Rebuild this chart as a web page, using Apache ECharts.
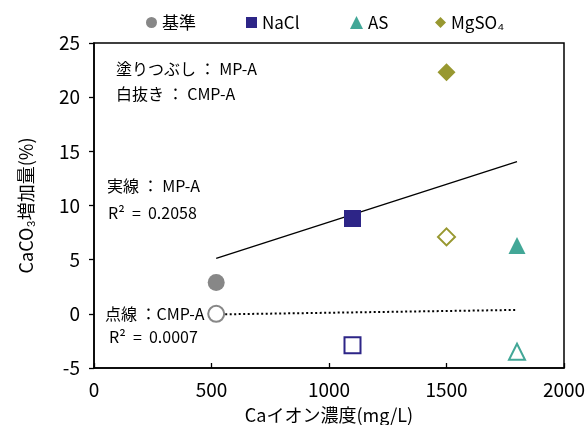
<!DOCTYPE html>
<html>
<head>
<meta charset="utf-8">
<script src="https://cdn.jsdelivr.net/npm/echarts@6/dist/echarts.min.js"></script>
<style>
  html, body { margin: 0; padding: 0; background: #fff; }
  #chart { width: 585px; height: 425px; }
</style>
</head>
<body>
<div id="chart"></div>
<script>
// Ca ion concentration (mg/L) for each additive condition
const categories = ['基準', 'NaCl', 'AS', 'MgSO₄'];
const concentrations = [520, 1100, 1800, 1500];
// CaCO3 increase (%) — MP-A (filled) and CMP-A (hollow)
const mpA = [2.9, 8.8, 6.3, 22.3];
const cmpA = [0.0, -2.9, -3.5, 7.1];
const xTicks = [0, 500, 1000, 1500, 2000];
const yTicks = [-5, 0, 5, 10, 15, 20, 25];

const colors = ['#878787', '#2d2587', '#42a797', '#989830'];
const symbols = ['circle', 'rect', 'triangle', 'diamond'];
const sizes = [17, 17, 17, 18];

const FONT = "'Noto Sans CJK JP', sans-serif";

// least-squares fit over the four conditions
function fit(xs, ys) {
  const n = xs.length;
  const mx = xs.reduce((a, b) => a + b, 0) / n;
  const my = ys.reduce((a, b) => a + b, 0) / n;
  let sxy = 0, sxx = 0;
  for (let i = 0; i < n; i++) {
    sxy += (xs[i] - mx) * (ys[i] - my);
    sxx += (xs[i] - mx) * (xs[i] - mx);
  }
  const k = sxy / sxx;
  const b = my - k * mx;
  const x0 = Math.min(...xs), x1 = Math.max(...xs);
  return [[x0, k * x0 + b], [x1, k * x1 + b]];
}

const series = [];
categories.forEach((name, i) => {
  series.push({
    name: name,
    type: 'scatter',
    symbol: symbols[i],
    symbolSize: sizes[i],
    itemStyle: { color: colors[i], opacity: 1 },
    data: [[concentrations[i], mpA[i]]],
    z: 5
  });
  series.push({
    name: name + ' CMP-A',
    type: 'scatter',
    symbol: symbols[i],
    symbolSize: sizes[i] - 1,
    itemStyle: { color: '#fff', borderColor: colors[i], borderWidth: 2, opacity: 1 },
    data: [[concentrations[i], cmpA[i]]],
    z: 5
  });
});
series.push({
  type: 'line',
  data: fit(concentrations, mpA),
  symbol: 'none',
  lineStyle: { color: '#000', width: 1.3, type: 'solid' },
  silent: true,
  z: 3
});
series.push({
  type: 'line',
  data: fit(concentrations, cmpA),
  symbol: 'none',
  lineStyle: { color: '#000', width: 2, type: [2, 2.5] },
  silent: true,
  z: 3
});

const legendLeft = [141, 241, 345, 430];
const legendIcon = [11, 11, 13, 11];
const legends = categories.map((name, i) => ({
  data: [name],
  left: legendLeft[i],
  top: 9,
  itemWidth: legendIcon[i],
  itemHeight: legendIcon[i],
  itemGap: 2,
  textStyle: { fontSize: 17, color: '#000', fontFamily: FONT }
}));

const noteStyle = { fontSize: 16, fill: '#000', fontFamily: FONT };
const notes = [
  ['塗りつぶし ： MP-A', 116, 61],
  ['白抜き ： CMP-A', 116, 86],
  ['実線 ： MP-A', 107, 178],
  ['R²  =  0.2058', 108, 205],
  ['点線 ：CMP-A', 105, 306],
  ['R²  =  0.0007', 109, 329]
];

const chart = echarts.init(document.getElementById('chart'));
chart.setOption({
  animation: false,
  backgroundColor: '#fff',
  legend: legends,
  grid: {
    left: 94, top: 43, width: 470, height: 325,
    containLabel: false,
    outerBoundsMode: 'none',
    show: true, borderColor: '#000', borderWidth: 1.5, backgroundColor: 'transparent'
  },
  xAxis: {
    type: 'value',
    min: xTicks[0], max: xTicks[xTicks.length - 1], interval: 500,
    name: 'Caイオン濃度(mg/L)',
    nameLocation: 'middle',
    nameGap: 38,
    nameTextStyle: { fontSize: 18, color: '#000', fontFamily: FONT },
    axisLine: { onZero: false, lineStyle: { color: '#000', width: 1.5 } },
    axisTick: { inside: true, length: 5, lineStyle: { color: '#000', width: 1.3 } },
    axisLabel: { fontSize: 19, color: '#000', margin: 12, fontFamily: FONT, formatter: v => String(v) },
    splitLine: { show: false }
  },
  yAxis: {
    type: 'value',
    min: yTicks[0], max: yTicks[yTicks.length - 1], interval: 5,
    name: 'CaCO₃増加量(%)',
    nameLocation: 'middle',
    nameGap: 59,
    nameRotate: 90,
    nameTextStyle: { fontSize: 18, color: '#000', fontFamily: FONT },
    axisLine: { onZero: false, lineStyle: { color: '#000', width: 1.5 } },
    axisTick: { inside: false, length: 5, lineStyle: { color: '#000', width: 1.3 } },
    axisLabel: { fontSize: 19, color: '#000', margin: 14, fontFamily: FONT, formatter: v => String(v) },
    splitLine: { show: false }
  },
  graphic: notes.map(([t, x, y]) => ({
    type: 'text', left: x, top: y, z: 10,
    style: Object.assign({ text: t }, noteStyle)
  })),
  series: series
});
</script>
</body>
</html>
